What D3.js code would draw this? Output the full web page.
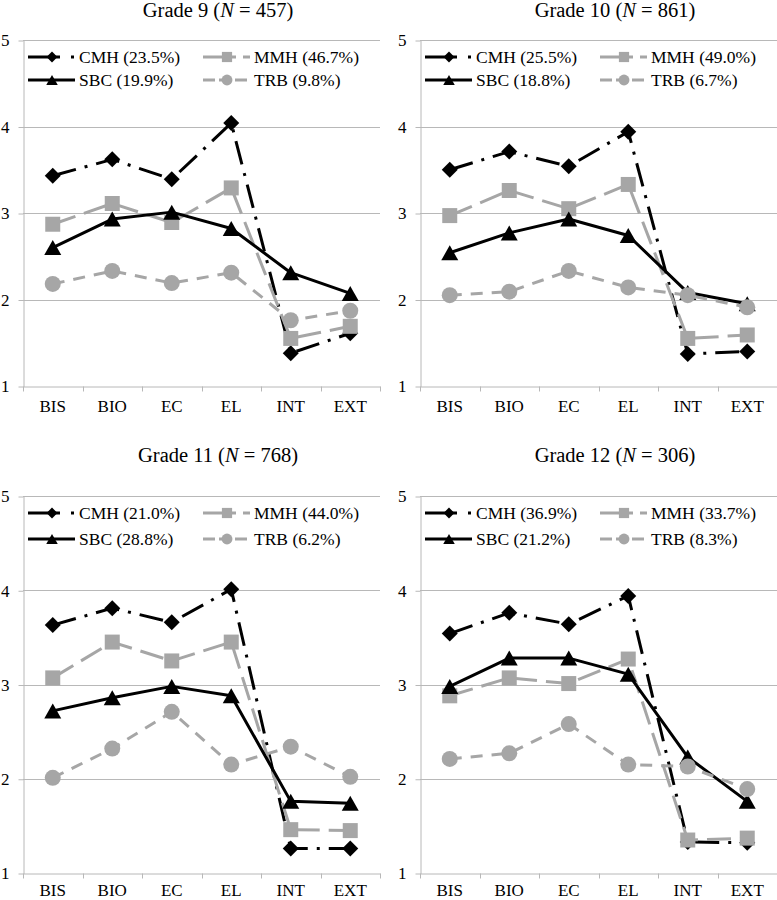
<!DOCTYPE html>
<html><head><meta charset="utf-8">
<script src="https://cdn.jsdelivr.net/npm/d3@7"></script>
<style>
body{margin:0;background:#fff}
svg{display:block}
svg text{font-family:"Liberation Serif","Times New Roman","DejaVu Serif",serif !important;fill:#000}
</style>
</head><body><svg id="chart" width="777" height="900" font-family="Liberation Serif, Times New Roman, serif"></svg>
<script>
// ---------- data ----------
const categories = ["BIS","BIO","EC","EL","INT","EXT"];
const gradeLabels = ["Grade 9","Grade 10","Grade 11","Grade 12"];
const sampleSizes = [457, 861, 768, 306];
const seriesNames = ["CMH","MMH","SBC","TRB"];
const sharesCMH = [23.5, 25.5, 21.0, 36.9];
const sharesMMH = [46.7, 49.0, 44.0, 33.7];
const sharesSBC = [19.9, 18.8, 28.8, 21.2];
const sharesTRB = [9.8, 6.7, 6.2, 8.3];
const valuesCMH = [
  [3.43,3.62,3.39,4.04,1.38,1.61],
  [3.50,3.71,3.54,3.94,1.37,1.40],
  [3.63,3.81,3.66,4.01,1.26,1.26],
  [3.54,3.76,3.64,3.94,1.33,1.32]];
const valuesMMH = [
  [2.87,3.11,2.89,3.29,1.55,1.69],
  [2.97,3.26,3.05,3.33,1.55,1.59],
  [3.07,3.45,3.25,3.45,1.46,1.45],
  [2.88,3.07,3.01,3.27,1.35,1.37]];
const valuesSBC = [
  [2.60,2.93,3.01,2.82,2.31,2.07],
  [2.54,2.77,2.93,2.74,2.08,1.95],
  [2.72,2.86,2.98,2.88,1.76,1.74],
  [2.98,3.28,3.28,3.11,2.23,1.76]];
const valuesTRB = [
  [2.18,2.33,2.19,2.31,1.76,1.87],
  [2.05,2.09,2.33,2.14,2.05,1.91],
  [2.01,2.32,2.71,2.15,2.34,2.02],
  [2.21,2.27,2.58,2.15,2.13,1.89]];
const yTicks = [1,2,3,4,5];

// ---------- layout & style ----------
const FONT = '"Liberation Serif","Times New Roman",serif';
const plotW = 357;
const panelLayout = [
  {x0:23,  y5:40,  y1:386, titleY:17,  labelY:25, legendY:[57,80]},
  {x0:420, y5:40,  y1:386, titleY:17,  labelY:25, legendY:[57,80]},
  {x0:23,  y5:496, y1:873, titleY:462, labelY:22, legendY:[513,539]},
  {x0:420, y5:496, y1:873, titleY:462, labelY:22, legendY:[513,539]}
];
const GRAY = "#a6a6a6";
const GRID = "#b8b8b8";
const seriesStyle = {
  CMH:{color:"#000", dash:"24,9,3,9", marker:"diamond", legendDash:"32,11,3,20"},
  MMH:{color:GRAY,   dash:"24,9",     marker:"square",  legendDash:"33,7,8,20"},
  SBC:{color:"#000", dash:null,       marker:"triangle",legendDash:null},
  TRB:{color:GRAY,   dash:"12,9",     marker:"circle",  legendDash:"12,4,12,4,12,20"}
};
const seriesValues = {CMH:valuesCMH, MMH:valuesMMH, SBC:valuesSBC, TRB:valuesTRB};
const seriesShares = {CMH:sharesCMH, MMH:sharesMMH, SBC:sharesSBC, TRB:sharesTRB};

function markerPath(type, s){
  if(type==="diamond"){const r=8*s;return `M0,${-r}L${r},0L0,${r}L${-r},0Z`;}
  if(type==="square"){const r=7.5*s;return `M${-r},${-r}H${r}V${r}H${-r}Z`;}
  if(type==="triangle"){const w=8.5*s,h=7.5*s;return `M0,${-h}L${w},${h}L${-w},${h}Z`;}
  const r=8*s;return `M${-r},0A${r},${r},0,1,1,${r},0A${r},${r},0,1,1,${-r},0Z`;
}

const svg = d3.select("#chart");

panelLayout.forEach((p, gi) => {
  const g = svg.append("g");
  const x = d3.scaleBand().domain(categories).range([p.x0, p.x0 + plotW]);
  const y = d3.scaleLinear().domain([1,5]).range([p.y1, p.y5]);
  const cx = c => x(c) + x.bandwidth()/2;

  // gridlines
  g.selectAll("line.grid").data(yTicks.slice(1)).join("line")
    .attr("x1", p.x0).attr("x2", p.x0 + plotW)
    .attr("y1", d => Math.round(y(d)) + 0.5).attr("y2", d => Math.round(y(d)) + 0.5)
    .attr("stroke", GRID).attr("stroke-width", 1);

  // y axis
  const ya = g.append("g").attr("transform", `translate(${p.x0 + 0.5},0.5)`)
    .call(d3.axisLeft(y).tickValues(yTicks).tickSize(5).tickSizeOuter(0).tickPadding(9).tickFormat(d3.format("d")));
  ya.attr("font-family", FONT).attr("font-size", 17);
  ya.selectAll("path,line").attr("stroke", GRID);
  ya.selectAll("text").style("font-family", FONT).style("font-size","17px").attr("fill","#000");

  // x axis line + boundary ticks
  const xa = g.append("g").attr("transform", `translate(0,${Math.round(p.y1) + 0.5})`)
    .call(d3.axisBottom(x).tickSize(0).tickSizeOuter(0));
  xa.attr("font-family", FONT).attr("font-size", 17);
  xa.select(".domain").attr("stroke", GRID);
  xa.selectAll("text").attr("y", p.labelY).attr("dy", 0)
    .style("font-family", FONT).style("font-size","17px").attr("fill","#000");
  const bounds = categories.map(c => x(c)).concat([p.x0 + plotW]);
  xa.selectAll("line.bt").data(bounds).join("line").attr("class","bt")
    .attr("x1", d => Math.round(d) + 0.5).attr("x2", d => Math.round(d) + 0.5)
    .attr("y1", 0).attr("y2", 5).attr("stroke", GRID);

  // title
  const t = g.append("text").attr("x", p.x0 + 195).attr("y", p.titleY)
    .attr("text-anchor","middle").style("font-family", FONT).style("font-size","20.5px");
  t.append("tspan").text(gradeLabels[gi] + " (");
  t.append("tspan").style("font-style","italic").text("N");
  t.append("tspan").text(" = " + sampleSizes[gi] + ")");

  // series
  const line = d3.line().x(d => cx(d.c)).y(d => y(d.v));
  seriesNames.forEach(name => {
    const st = seriesStyle[name];
    const data = categories.map((c,i) => ({c, v: seriesValues[name][gi][i]}));
    const sg = g.append("g");
    sg.append("path").attr("d", line(data)).attr("fill","none")
      .attr("stroke", st.color).attr("stroke-width", 3)
      .attr("stroke-dasharray", st.dash).attr("stroke-linejoin","round");
    sg.selectAll("path.m").data(data).join("path").attr("class","m")
      .attr("transform", d => `translate(${cx(d.c)},${y(d.v)})`)
      .attr("d", markerPath(st.marker, 1)).attr("fill", st.color);
  });

  // legend
  seriesNames.forEach((name, si) => {
    const st = seriesStyle[name];
    const col = si % 2, row = Math.floor(si / 2);
    const lx = p.x0 + (col === 0 ? 5 : 180);
    const ly = p.legendY[row];
    const lg = svg.append("g");
    lg.append("line").attr("x1", lx).attr("x2", lx + 47).attr("y1", ly).attr("y2", ly)
      .attr("stroke", st.color).attr("stroke-width", 3).attr("stroke-dasharray", st.legendDash);
    lg.append("path").attr("transform", `translate(${lx + 24},${ly})`)
      .attr("d", markerPath(st.marker, 0.68)).attr("fill", st.color);
    lg.append("text").attr("x", lx + 51).attr("y", ly + 6)
      .style("font-family", FONT).style("font-size","17.5px")
      .text(`${name} (${seriesShares[name][gi].toFixed(1)}%)`);
  });
});
</script>
</body></html>
